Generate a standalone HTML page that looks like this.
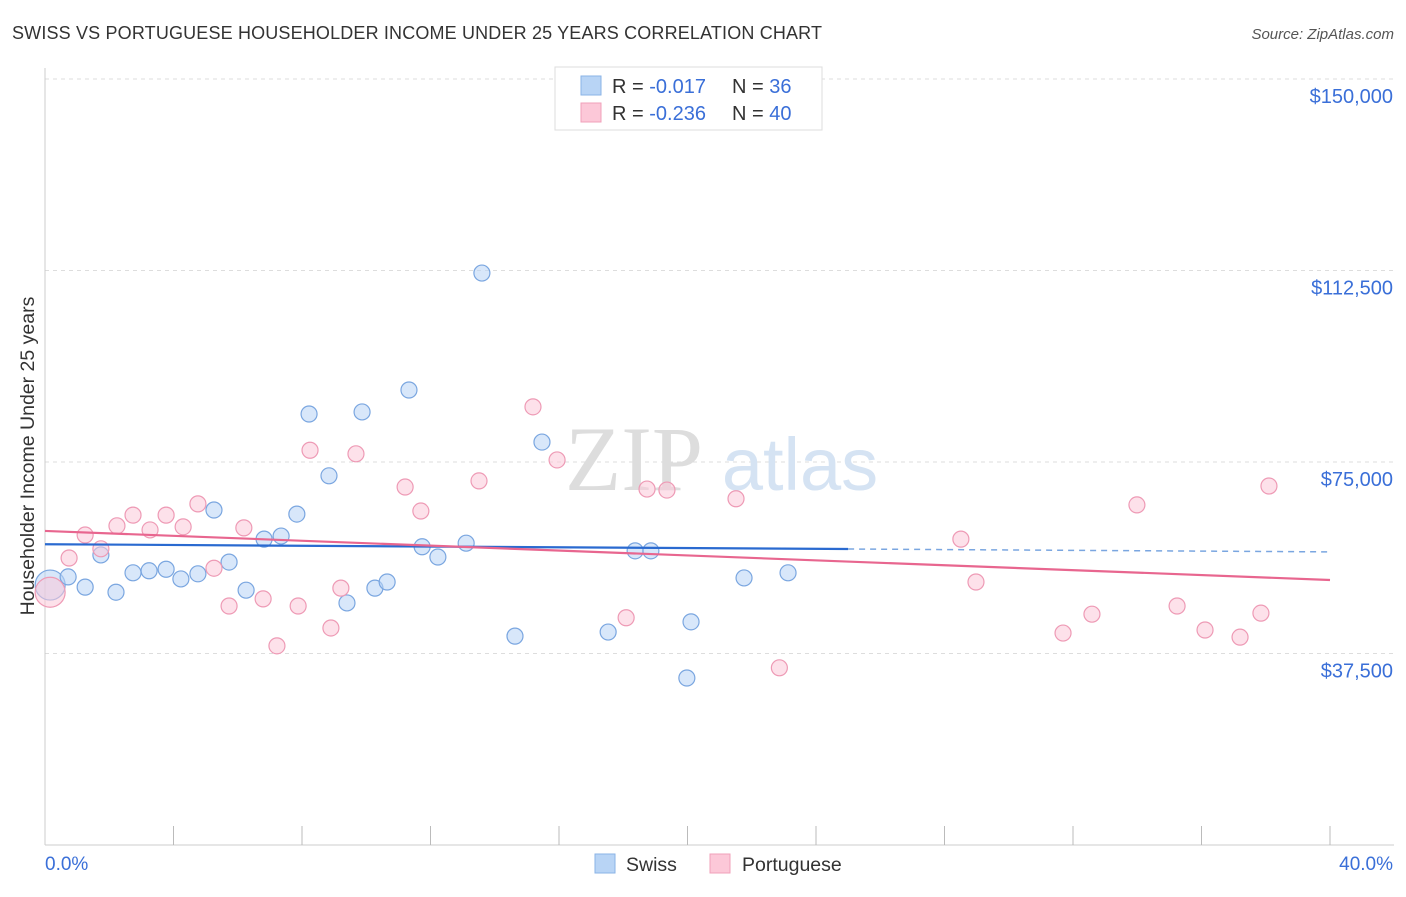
<!DOCTYPE html>
<html><head><meta charset="utf-8"><style>
body{margin:0;background:#fff;font-family:"Liberation Sans",sans-serif}
svg text{font-family:"Liberation Sans",sans-serif}
</style></head><body>
<svg id="c" width="1406" height="892" viewBox="0 0 1406 892">
<text x="12" y="39" font-size="18" fill="#333" textLength="810">SWISS VS PORTUGUESE HOUSEHOLDER INCOME UNDER 25 YEARS CORRELATION CHART</text>
<text x="1394" y="39" font-size="15" fill="#555" font-style="italic" text-anchor="end">Source: ZipAtlas.com</text>
<g id="grid"></g>
<g><text x="634" y="490" font-size="92" fill="#ddd" text-anchor="middle" font-family="Liberation Serif" style="font-family:'Liberation Serif',serif">ZIP</text><text x="800" y="490" font-size="74" fill="#d5e3f3" text-anchor="middle">atlas</text></g>
<text transform="translate(34,456) rotate(-90)" font-size="19.5" fill="#333" text-anchor="middle">Householder Income Under 25 years</text>
<g id="pts"></g>
<g id="trend"></g>
<g>
<rect x="555" y="67" width="267" height="63" fill="#fff" stroke="#ddd"/>
<rect x="581" y="76" width="20" height="19" fill="#b8d4f5" stroke="#8ab3e6"/>
<rect x="581" y="103" width="20" height="19" fill="#fcc8d8" stroke="#f0a0ba"/>
<text x="612" y="93" font-size="20" fill="#333">R = <tspan fill="#3a6fd8">-0.017</tspan></text>
<text x="732" y="93" font-size="20" fill="#333">N = <tspan fill="#3a6fd8">36</tspan></text>
<text x="612" y="120" font-size="20" fill="#333">R = <tspan fill="#3a6fd8">-0.236</tspan></text>
<text x="732" y="120" font-size="20" fill="#333">N = <tspan fill="#3a6fd8">40</tspan></text>
</g>
<g>
<rect x="595" y="854" width="20" height="19" fill="#b8d4f5" stroke="#8ab3e6"/>
<text x="626" y="871" font-size="19.5" fill="#333">Swiss</text>
<rect x="710" y="854" width="20" height="19" fill="#fcc8d8" stroke="#f0a0ba"/>
<text x="742" y="871" font-size="19.5" fill="#333">Portuguese</text>
</g>
<text x="45" y="870" font-size="19" fill="#3a6fd8">0.0%</text>
<text x="1393" y="870" font-size="19" fill="#3a6fd8" text-anchor="end">40.0%</text>
</svg>
<script>
const yTicks=[37500,75000,112500,150000];
const yTickLabels=["$37,500","$75,000","$112,500","$150,000"];
const swissX=[0.16,0.72,1.25,1.74,2.21,2.74,3.24,3.77,4.23,4.76,5.26,5.73,6.26,6.82,7.35,7.84,8.22,8.84,9.40,9.87,10.27,10.65,11.33,11.74,12.23,13.11,13.60,14.63,15.47,17.53,18.37,18.86,19.98,20.11,21.76,23.13];
const swissY=[50.9,52.5,50.5,56.8,49.5,53.3,53.7,54.0,52.1,53.1,65.6,55.4,49.9,59.9,60.5,64.8,84.4,72.3,47.4,84.8,50.3,51.5,89.1,58.4,56.4,59.1,112.0,40.9,78.9,41.7,57.6,57.6,32.7,43.7,52.3,53.3];
const portX=[0.16,0.75,1.25,1.74,2.24,2.74,3.27,3.77,4.30,4.76,5.26,5.73,6.19,6.79,7.22,7.88,8.25,8.90,9.21,9.68,11.21,11.70,13.51,15.19,15.94,18.09,18.74,19.36,21.51,22.86,28.51,28.98,31.69,32.59,33.99,35.24,36.11,37.20,37.85,38.10];
const portY=[49.5,56.2,60.7,58.0,62.5,64.6,61.7,64.6,62.3,66.8,54.2,46.8,62.1,48.2,39.0,46.8,77.3,42.5,50.3,76.6,70.1,65.4,71.3,85.8,75.4,44.5,69.7,69.5,67.8,34.7,59.9,51.5,41.5,45.2,66.6,46.8,42.1,40.7,45.4,70.3];
const swissTrend=[58.9,57.4]; const swissSolidEnd=25;
const portTrend=[61.5,51.9];
const NS='http://www.w3.org/2000/svg';
const X=p=>45+p*32.125, Y=v=>845-v/37500*191.5;
function mk(t,a,par){const e=document.createElementNS(NS,t);for(const k in a)e.setAttribute(k,a[k]);document.getElementById(par).appendChild(e);return e;}
yTicks.forEach((v,i)=>{
 const l=mk('line',{x1:45,x2:1394,y1:Y(v),y2:Y(v),stroke:'#ddd','stroke-dasharray':'4,4'},'grid');
 
 
 const t=mk('text',{x:1393,y:Y(v)+24,'font-size':20,fill:'#3a6fd8','text-anchor':'end'},'grid');t.textContent=yTickLabels[i];
 
 
});
mk('line',{x1:45,x2:45,y1:68,y2:845,stroke:'#ccc'},'grid');
mk('line',{x1:45,x2:1394,y1:845,y2:845,stroke:'#ccc'},'grid');
for(let i=1;i<=10;i++){const t=mk('line',{x1:X(i*4),x2:X(i*4),y1:826,y2:845,stroke:'#bbb'},'grid');
 
 }
function pts(xs,ys,fill,stroke,name){xs.forEach((x,i)=>{const c=mk('circle',{cx:X(x),cy:Y(ys[i]*1000),r:i==0?15:8,fill:fill,'fill-opacity':0.55,stroke:stroke,'stroke-width':1.2},'pts');
 
 });}
pts(swissX,swissY,'#b8d4f5','#7aa6e0','swiss-point');
pts(portX,portY,'#fcc8d8','#ee9ab5','portuguese-point');
const sy=p=>swissTrend[0]+(swissTrend[1]-swissTrend[0])*p/40;
let l=mk('line',{x1:X(0),y1:Y(sy(0)*1000),x2:X(swissSolidEnd),y2:Y(sy(swissSolidEnd)*1000),stroke:'#2a6ad0','stroke-width':2.2},'trend');


l=mk('line',{x1:X(swissSolidEnd),y1:Y(sy(swissSolidEnd)*1000),x2:X(40),y2:Y(sy(40)*1000),stroke:'#7aa6e0','stroke-width':1.5,'stroke-dasharray':'6,5'},'trend');


l=mk('line',{x1:X(0),y1:Y(portTrend[0]*1000),x2:X(40),y2:Y(portTrend[1]*1000),stroke:'#e8668f','stroke-width':2.2},'trend');


</script>
</body></html>
